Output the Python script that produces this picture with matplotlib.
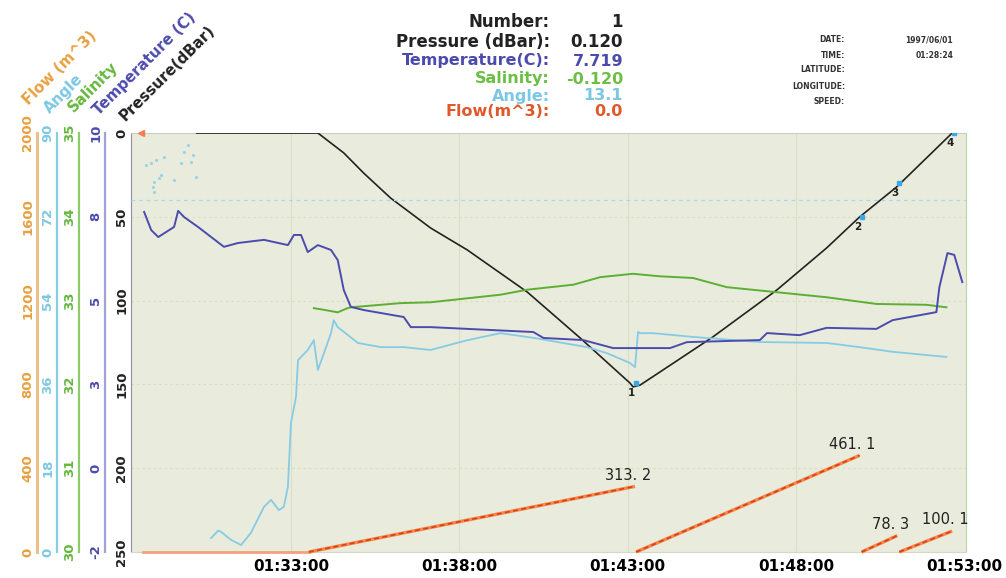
"""
CTD 拖曳剖面图：压力 / 温度 / 盐度 / 角度 / 流量 多纵轴叠加。
输出 out.png
"""
import matplotlib
matplotlib.use('Agg')
import matplotlib.pyplot as plt

# ─────────────────────────────────────────────────────────────────────────────
# 数据（时间 = 01:00 之后的分钟数）
# ─────────────────────────────────────────────────────────────────────────────
T_START, T_END = 28.25, 53.05
time_ticks  = [33, 38, 43, 48, 53]
time_labels = ['01:33:00', '01:38:00', '01:43:00', '01:48:00', '01:53:00']

# 压力 (dBar)
pres_t = [30.2, 33.80, 34.57, 35.16, 35.96, 37.15, 38.24, 40.02, 41.59, 43.07,
          43.16, 43.37, 43.96, 45.53, 47.43, 48.91, 49.89, 50.99, 52.64]
pres_v = [0, 0, 11.9, 23.9, 38.8, 56.7, 69.8, 94.9, 122.3, 149.2,
          151.5, 150.4, 142.6, 121.7, 93.7, 68.6, 50.1, 32.2, 0]

# 站点标记
stn_t = [43.25, 49.95, 51.05, 52.70]
stn_p = [149.2, 50.1, 29.8, 0.0]
stn_labels = ['1', '2', '3', '4']

# 温度 (C)
temp_t = [28.64, 28.85, 29.06, 29.53, 29.65, 29.83, 30.24, 31.01, 31.43, 32.20,
          32.91, 33.09, 33.30, 33.50, 33.80, 34.19, 34.39, 34.57, 34.78, 35.16,
          36.35, 36.56, 37.15, 40.20, 40.50, 41.68, 42.57, 44.26, 44.76, 46.93,
          47.14, 48.11, 48.91, 50.39, 50.87, 52.17, 52.26, 52.50, 52.70, 52.94]
temp_v = [7.74, 7.22, 7.02, 7.31, 7.77, 7.59, 7.31, 6.74, 6.85, 6.94,
          6.79, 7.08, 7.08, 6.59, 6.79, 6.65, 6.36, 5.50, 5.02, 4.93,
          4.73, 4.44, 4.44, 4.30, 4.13, 4.07, 3.84, 3.84, 4.01, 4.07,
          4.27, 4.21, 4.42, 4.39, 4.64, 4.87, 5.59, 6.56, 6.51, 5.73]

# 盐度
sal_t = [33.68, 33.98, 34.39, 34.68, 34.78, 36.26, 37.15, 39.22, 40.02, 41.39,
         42.19, 43.16, 43.96, 44.94, 45.95, 47.43, 48.91, 50.39, 51.87, 52.47]
sal_v = [32.91, 32.89, 32.86, 32.91, 32.92, 32.97, 32.98, 33.07, 33.13, 33.19,
         33.28, 33.32, 33.29, 33.27, 33.16, 33.10, 33.04, 32.96, 32.95, 32.92]

# 角度
ang_t = [30.63, 30.84, 30.93, 31.22, 31.52, 31.81, 32.20, 32.41, 32.64, 32.79,
         32.91, 33.00, 33.15, 33.21, 33.50, 33.68, 33.80, 33.98, 34.19, 34.27,
         34.39, 34.99, 35.67, 36.35, 37.15, 38.24, 39.22, 40.20, 41.80, 42.39,
         43.07, 43.22, 43.31, 43.37, 43.76, 44.94, 46.93, 48.91, 49.89, 50.87,
         52.47]
ang_v = [3.0, 4.6, 4.3, 2.6, 1.5, 4.1, 9.7, 11.2, 9.0, 9.7,
         14.0, 27.7, 33.3, 41.2, 43.4, 45.5, 39.1, 42.7, 47.0, 49.8,
         48.3, 44.9, 44.0, 44.0, 43.4, 45.5, 47.0, 46.0, 44.0, 42.7,
         40.6, 39.7, 47.3, 47.0, 47.0, 46.2, 45.1, 44.9, 44.0, 43.0,
         41.9]
# 开头的离散噪点
ang_noise_t = [28.70, 28.85, 29.00, 29.24, 29.15, 28.94, 29.09, 29.53, 29.74,
               29.83, 29.95, 30.04, 30.10, 30.19, 28.94, 28.91]
ang_noise_v = [83.1, 83.6, 84.2, 84.8, 81.0, 79.5, 80.3, 79.9, 83.6,
               85.9, 87.4, 83.8, 85.3, 80.5, 77.3, 78.4]
ang_ref = 75.6

# 流量 (m^3)：每段累计
flow_base_t = [28.62, 33.53]
flow_seg_t = [(33.53, 43.22), (43.25, 49.89), (49.95, 51.01), (51.07, 52.64)]
flow_seg_v = [313.2, 461.1, 78.3, 100.1]
start_mark_t = 28.55

# 顶部读数
readout_labels = ['Number:', 'Pressure (dBar):', 'Temperature(C):',
                  'Salinity:', 'Angle:', 'Flow(m^3):']
readout_values = ['1', '0.120', '7.719', '-0.120', '13.1', '0.0']
meta_labels = ['DATE:', 'TIME:', 'LATITUDE:', 'LONGITUDE:', 'SPEED:']
meta_values = ['1997/06/01', '01:28:24', '', '', '']

C_PRES = '#222222'
C_TEMP = '#4B4BAE'
C_SAL  = '#5CAF34'
C_ANG  = '#7CC8E2'
C_FLOW_LINE = '#E23A1A'
READ_COLORS = [C_PRES, C_PRES, C_TEMP, '#6CBF44', C_ANG, '#E0582A']

W, H = 1006, 578
fig = plt.figure(figsize=(W / 100, H / 100), dpi=100)

# 绘图区：像素 x 131..966, y 133..552
ax = fig.add_axes([131 / W, 1 - 552 / H, 835 / W, 419 / H])
ax.set_facecolor('#E9ECDC')
ax.set_xlim(T_START, T_END)
ax.set_ylim(250, 0)
ax.set_xticks(time_ticks, time_labels, fontsize=11, fontweight='bold')
ax.tick_params(axis='x', length=0, pad=5)
ax.set_yticks([0, 50, 100, 150, 200, 250], ['0', '50', '100', '150', '200', '250'],
              rotation=90, va='center', fontsize=9.5, fontweight='bold', color=C_PRES)
ax.tick_params(axis='y', length=0, pad=2)
for t in time_ticks[:-1]:
    ax.axvline(t, color='#D9DDC9', lw=0.8, zorder=0)
for p in [50, 100, 150, 200]:
    ax.axhline(p, color='#DADDB8', lw=0.8, ls=(0, (2, 3)), zorder=0)
ax.spines['left'].set_color('#8E8EA8')
ax.spines['top'].set_color('#C7D0B8')
ax.spines['right'].set_color('#B6D6A2')
ax.spines['bottom'].set_color('#D3D9C6')

ax.plot(pres_t, pres_v, color=C_PRES, lw=1.2, zorder=3)
ax.plot(stn_t, stn_p, ls='none', marker='s', ms=3, color='#3AA8E8', zorder=4)
for t, p, s in zip(stn_t, stn_p, stn_labels):
    ax.annotate(s, (t, p), xytext=(-3, -7), textcoords='offset points',
                ha='center', va='center', fontsize=7.5, fontweight='bold', color='#222222')
ax.plot([start_mark_t], [0], ls='none', marker='<', ms=5, color='#F08050',
        clip_on=False, zorder=4)


def side_axis(offset, lim, ticks, labels, color, spine_color, lw=1.6):
    a = ax.twinx()
    a.set_ylim(*lim)
    a.yaxis.tick_left()
    for s in ('right', 'top', 'bottom'):
        a.spines[s].set_visible(False)
    a.spines['left'].set_visible(True)
    a.spines['left'].set_position(('axes', offset))
    a.spines['left'].set_color(spine_color)
    a.spines['left'].set_linewidth(lw)
    a.set_yticks(ticks, labels, rotation=90, va='center', color=color,
                 fontsize=9.5, fontweight='bold')
    a.tick_params(axis='y', length=0, pad=2)
    return a


ang_ticks = [0, 18, 36, 54, 72, 90]
ax_ang = side_axis(-74 / 835, (0, 90), ang_ticks, [str(v) for v in ang_ticks],
                   C_ANG, '#86CFE2')
sal_ticks = [30, 31, 32, 33, 34, 35]
ax_sal = side_axis(-52 / 835, (30, 35), sal_ticks, [str(v) for v in sal_ticks],
                   '#66B83E', '#8CCB68')
temp_ticks = [-2 + 2.4 * i for i in range(6)]
ax_tmp = side_axis(-26 / 835, (-2, 10), temp_ticks, [f'{v:.0f}' for v in temp_ticks],
                   C_TEMP, '#A2A2DA')
flow_ticks = [0, 400, 800, 1200, 1600, 2000]
ax_flw = side_axis(-94 / 835, (0, 2000), flow_ticks, [str(v) for v in flow_ticks],
                   '#E8A040', '#EBC189', lw=2.2)

# 角度
ax_ang.axhline(ang_ref, color='#A6D8EA', lw=0.9, ls=(0, (3, 3)), zorder=1)
ax_ang.plot(ang_noise_t, ang_noise_v, ls='none', marker='.', ms=2.5, color='#9AD2E8')
ax_ang.plot(ang_t, ang_v, color='#86CBE6', lw=1.3)

# 盐度
ax_sal.plot(sal_t, sal_v, color=C_SAL, lw=1.4)

# 温度
ax_tmp.plot(temp_t, temp_v, color=C_TEMP, lw=1.4)

# 流量
ax_flw.plot(flow_base_t, [0, 0], color='#F2A27A', lw=2.0, clip_on=False)
for (t0, t1), v in zip(flow_seg_t, flow_seg_v):
    ax_flw.plot([t0, t1], [0, v], color='#F08A4A', lw=2.4, solid_capstyle='butt', clip_on=False)
    ax_flw.plot([t0, t1], [0, v], color=C_FLOW_LINE, lw=1.2, ls=(0, (3, 2)), clip_on=False)
    ax_flw.annotate(f'{v:.1f}'.replace('.', '. '), (t1, v), xytext=(-5, 8),
                    textcoords='offset points', ha='center', va='center',
                    fontsize=10.5, color='#222222')

# 轴标题（45° 斜放）
axis_titles = [('Flow (m^3)', '#E8A040', 29, 106),
               ('Angle', C_ANG, 50, 114),
               ('Salinity', '#66B83E', 74, 113),
               ('Temperature (C)', C_TEMP, 99, 116),
               ('Pressure(dBar)', C_PRES, 125, 122)]
for txt, col, px, py in axis_titles:
    fig.text(px / W, 1 - py / H, txt, rotation=45, rotation_mode='anchor',
             ha='left', va='baseline', fontsize=10.8, fontweight='bold', color=col)

# 顶部读数
read_y = [22, 42, 61, 79, 96, 112]
for lbl, val, col, y in zip(readout_labels, readout_values, READ_COLORS, read_y):
    fs = 12 if col == C_PRES else 11.5
    fig.text(550 / W, 1 - y / H, lbl, ha='right', va='center', fontsize=fs,
             fontweight='bold', color=col)
    fig.text(623 / W, 1 - y / H, val, ha='right', va='center', fontsize=fs,
             fontweight='bold', color=col)

meta_y = [40, 56, 70, 86, 101]
for lbl, val, y in zip(meta_labels, meta_values, meta_y):
    fig.text(845 / W, 1 - y / H, lbl, ha='right', va='center', fontsize=5.5,
             fontweight='bold', color='#333333')
    if val:
        fig.text(953 / W, 1 - y / H, val, ha='right', va='center', fontsize=5.5,
                 fontweight='bold', color='#333333')

fig.savefig('out.png', dpi=100)
plt.close(fig)
